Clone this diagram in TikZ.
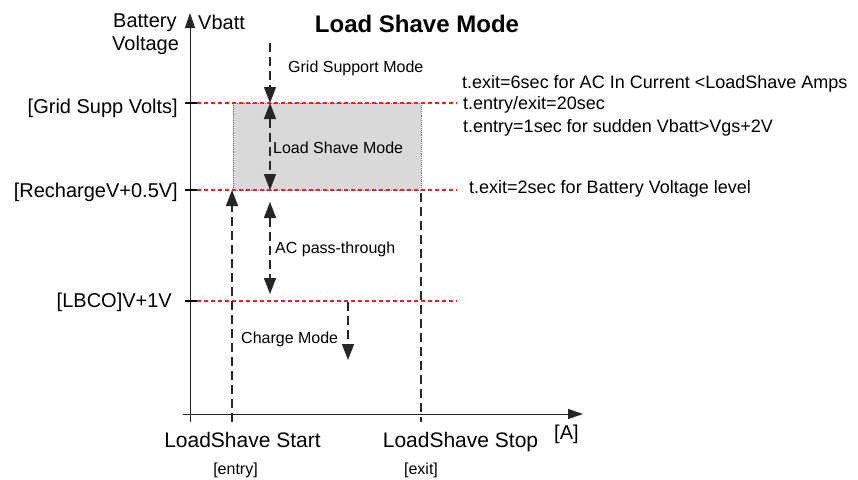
\documentclass[tikz,border=0pt]{standalone}
\usepackage{fontspec}
\setmainfont{Liberation Sans}
\usetikzlibrary{arrows.meta}
\definecolor{lsgray}{HTML}{D9D9D9}
\definecolor{dotblue}{HTML}{4472C4}
\definecolor{lvred}{HTML}{FF1A1A}
\tikzset{
  axisline/.style={line width=1pt, draw=black!85, -{Triangle[length=15pt,width=10pt]}},
  tickline/.style={line width=1.4pt, draw=black},
  redlevel/.style={line width=1.8pt, draw=lvred, dash pattern=on 4pt off 3pt},
  blackdash/.style={line width=1.4pt, draw=black!85, dash pattern=on 9pt off 5pt},
  tipone/.style={-{Triangle[length=16pt,width=12pt]}},
  tiptwo/.style={{Triangle[length=16pt,width=12pt]}-{Triangle[length=16pt,width=12pt]}},
  lbl/.style={inner sep=0pt, font=\fontsize{20}{24}\selectfont},
  xlbl/.style={inner sep=0pt, font=\fontsize{21}{25}\selectfont},
  sml/.style={inner sep=0pt, font=\fontsize{16}{19}\selectfont},
  note/.style={inner sep=0pt, font=\fontsize{18}{22}\selectfont},
  ttl/.style={inner sep=0pt, font=\fontsize{24}{28}\selectfont\bfseries}
}
\begin{document}
\begin{tikzpicture}[x=1pt,y=-1pt]
\useasboundingbox (0,0) rectangle (858,479);

% coordinates
\coordinate (yB) at (190,422);
\coordinate (yT) at (190,13);
\coordinate (xL) at (183,414);
\coordinate (xR) at (583,414);
\coordinate (gsT1) at (185,103); \coordinate (gsT2) at (197,103); \coordinate (gsE) at (457,103);
\coordinate (rcT1) at (185,190); \coordinate (rcT2) at (197,190); \coordinate (rcE) at (457,190);
\coordinate (lbT1) at (185,301); \coordinate (lbT2) at (197,301); \coordinate (lbE) at (457,301);
\coordinate (boxA) at (233,103); \coordinate (boxB) at (421,190);
\coordinate (enB) at (232,422); \coordinate (enT) at (232,190);
\coordinate (exT) at (421,193); \coordinate (exB) at (421,422);
\coordinate (gsaT) at (270,43); \coordinate (gsaB) at (270,103);
\coordinate (lsaT) at (270,103); \coordinate (lsaB) at (270,190);
\coordinate (acaT) at (270,202); \coordinate (acaB) at (270,294);
\coordinate (chaT) at (348,302); \coordinate (chaB) at (348,360);

% shaded load shave region
\path[fill=lsgray, draw=dotblue, line width=0.9pt, densely dotted] (boxA) rectangle (boxB);

% axes
\draw[axisline] (yB) -- (yT);
\draw[axisline] (xL) -- (xR);

% level ticks and red lines
\draw[tickline] (gsT1) -- (gsT2);
\draw[tickline] (rcT1) -- (rcT2);
\draw[tickline] (lbT1) -- (lbT2);
\draw[redlevel] (gsT2) -- (gsE);
\draw[redlevel] (rcT2) -- (rcE);
\draw[redlevel] (lbT2) -- (lbE);

% entry / exit verticals
\draw[blackdash, tipone] (enB) -- (enT);
\draw[blackdash] (exT) -- (exB);

% mode arrows
\draw[blackdash, tipone] (gsaT) -- (gsaB);
\draw[blackdash, tiptwo] (lsaT) -- (lsaB);
\draw[blackdash, tiptwo] (acaT) -- (acaB);
\draw[blackdash, tipone] (chaT) -- (chaB);

% labels
\node[ttl, anchor=base] (title) at (417,32) {Load Shave Mode};
\node[lbl, anchor=base west] (bat) at (113,27) {Battery};
\node[lbl, anchor=base west] (volt) at (112,50) {Voltage};
\node[lbl, anchor=base west] (vbatt) at (198,29) {Vbatt};
\node[lbl, anchor=base east] (gsv) at (178,113) {[Grid Supp Volts]};
\node[lbl, anchor=base east] (rcv) at (178,197) {[RechargeV+0.5V]};
\node[lbl, anchor=base east] (lbv) at (172,307) {[LBCO]V+1V};
\node[sml, anchor=base west] (gsm) at (288,72) {Grid Support Mode};
\node[sml, anchor=base west] (lsm) at (273,153) {Load Shave Mode};
\node[sml, anchor=base west] (acm) at (275,253) {AC pass-through};
\node[sml, anchor=base west] (chm) at (241,343) {Charge Mode};
\node[xlbl, anchor=base] (lss) at (242.5,447) {LoadShave Start};
\node[xlbl, anchor=base] (lsp) at (460.5,447) {LoadShave Stop};
\node[lbl, anchor=base west] (amp) at (554,439) {[A]};
\node[sml, anchor=base] (ent) at (235.5,474) {[entry]};
\node[sml, anchor=base] (ext) at (421,474) {[exit]};
\node[note, anchor=base west] (n1) at (462,88) {t.exit=6sec for AC In Current <LoadShave Amps};
\node[note, anchor=base west] (n2) at (463,109) {t.entry/exit=20sec};
\node[note, anchor=base west] (n3) at (463,132) {t.entry=1sec for sudden Vbatt>Vgs+2V};
\node[note, anchor=base west] (n4) at (469,193) {t.exit=2sec for Battery Voltage level};
\end{tikzpicture}
\end{document}
